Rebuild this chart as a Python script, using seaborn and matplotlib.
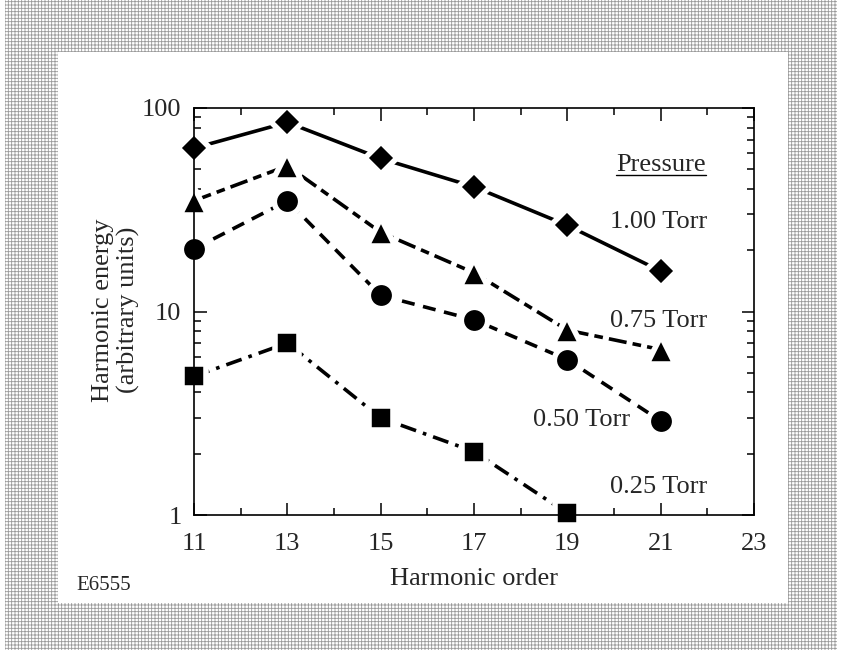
import matplotlib
matplotlib.use("Agg")
import matplotlib.pyplot as plt
import seaborn as sns
import pandas as pd
from matplotlib.patches import Rectangle
from matplotlib.lines import Line2D
from matplotlib.ticker import FixedLocator, LogLocator, NullFormatter

# ---- data ----
harmonic_order = [11, 13, 15, 17, 19, 21]
pressures = ["1.00 Torr", "0.75 Torr", "0.50 Torr", "0.25 Torr"]
energy_100 = [63.5, 85, 56.5, 41, 26.5, 15.8]
energy_075 = [35, 52, 24.5, 15.5, 8.1, 6.5]
energy_050 = [20.3, 35, 12.0, 9.1, 5.8, 2.9]
energy_025 = [4.8, 7.0, 3.0, 2.05, 1.02, None]
x_ticks = [11, 13, 15, 17, 19, 21, 23]
y_ticks = [1, 10, 100]

series = [energy_100, energy_075, energy_050, energy_025]
rows = []
for p, vals in zip(pressures, series):
    for xo, v in zip(harmonic_order, vals):
        if v is not None:
            rows.append({"order": xo, "energy": v, "pressure": p})
df = pd.DataFrame(rows)

sns.set_style("ticks")
plt.rcParams["font.family"] = ["Liberation Serif", "DejaVu Serif"]
plt.rcParams["hatch.linewidth"] = 0.6

W, H = 841, 654
fig = plt.figure(figsize=(W / 100, H / 100), dpi=100, facecolor="white")

# stippled frame
fig.patches.append(Rectangle((5 / W, 1 - 650 / H), 832 / W, 650 / H, transform=fig.transFigure,
                             facecolor="white", edgecolor="#9a9a9a", hatch="+++++", linewidth=0, zorder=-10))
fig.patches.append(Rectangle((58 / W, 1 - 603 / H), (788 - 58) / W, (603 - 52) / H, transform=fig.transFigure,
                             facecolor="white", edgecolor="none", zorder=-9))

ax = fig.add_axes([194 / W, 1 - 515 / H, (754 - 194) / W, (515 - 108) / H])
ax.set_facecolor("white")

styles = {
    "1.00 Torr": dict(marker="D", ms=16.5, ls="-"),
    "0.75 Torr": dict(marker="^", ms=20.5, ls=(0, (5.0, 1.7, 2.4, 1.7))),
    "0.50 Torr": dict(marker="o", ms=19, ls=(0, (3.6, 2.4))),
    "0.25 Torr": dict(marker="s", ms=17, ls=(0, (4.5, 2.0, 1.0, 2.0))),
}
for p in pressures:
    st = styles[p]
    sns.lineplot(data=df[df["pressure"] == p], x="order", y="energy", ax=ax,
                 color="black", linewidth=2.6, linestyle=st["ls"], marker=st["marker"],
                 markersize=st["ms"], markeredgecolor="white", markeredgewidth=4,
                 markerfacecolor="black", clip_on=False, legend=False, errorbar=None,
                 sort=True)

ax.set_yscale("log")
ax.set_xlim(11, 23)
ax.set_ylim(1, 100)
ax.xaxis.set_major_locator(FixedLocator(x_ticks))
ax.xaxis.set_minor_locator(FixedLocator(range(11, 24)))
ax.set_xticklabels([str(t) for t in x_ticks])
ax.yaxis.set_major_locator(FixedLocator(y_ticks))
ax.set_yticklabels([str(t) for t in y_ticks])
ax.yaxis.set_minor_locator(LogLocator(base=10, subs=range(2, 10)))
ax.yaxis.set_minor_formatter(NullFormatter())
ax.tick_params(which="both", direction="in", top=True, right=True, color="black", width=1.1)
ax.tick_params(which="major", length=9, labelsize=19)
ax.tick_params(axis="x", which="major", pad=13)
ax.tick_params(axis="y", which="major", pad=9)
ax.tick_params(which="minor", length=5)
for s in ax.spines.values():
    s.set_linewidth(1.2)
    s.set_color("black")
ax.set_xlabel("")
ax.set_ylabel("")

fs = 19
fig.text(474 / W, 1 - 579 / H, "Harmonic order", ha="center", va="center", fontsize=fs)
fig.text(116 / W, 1 - 310 / H, "Harmonic energy\n(arbitrary units)", rotation=90,
         ha="center", va="center", fontsize=fs, multialignment="center", linespacing=1.12)
fig.text(76 / W, 1 - 585 / H, "E6555", ha="left", va="center", fontsize=15)

ptxt = ax.text(21.97, 52.5, "Pressure", ha="right", va="center", fontsize=fs)
ax.text(21.99, 27.5, "1.00 Torr", ha="right", va="center", fontsize=fs)
ax.text(21.99, 9.0, "0.75 Torr", ha="right", va="center", fontsize=fs)
ax.text(20.34, 2.93, "0.50 Torr", ha="right", va="center", fontsize=fs)
ax.text(21.99, 1.37, "0.25 Torr", ha="right", va="center", fontsize=fs)

fig.canvas.draw()
bb = ptxt.get_window_extent()
uy = (bb.y0 + 1) / H
fig.add_artist(Line2D([bb.x0 / W, bb.x1 / W], [uy, uy], transform=fig.transFigure,
                      color="black", linewidth=1.0))

fig.savefig("out.png", dpi=100, facecolor="white")
